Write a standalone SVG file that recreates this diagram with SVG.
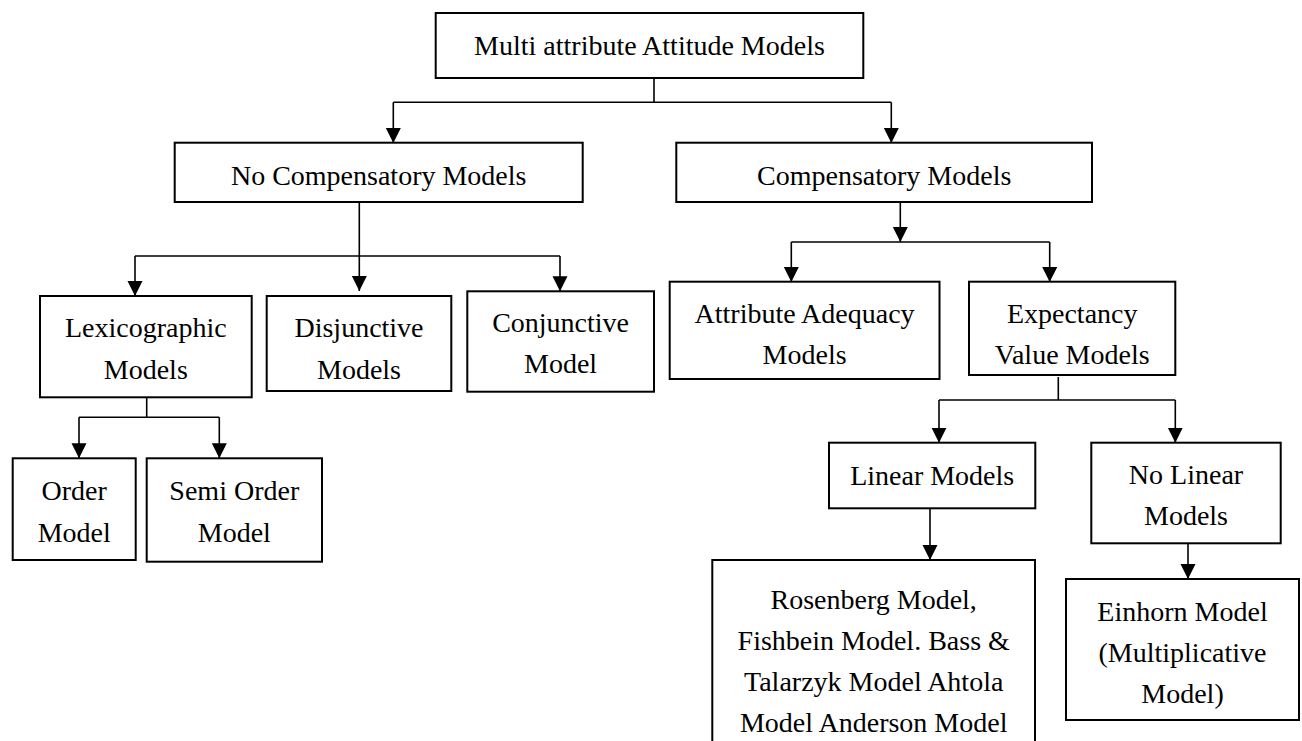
<svg xmlns="http://www.w3.org/2000/svg" width="1302" height="741" viewBox="0 0 1302 741">
<style>
.box{fill:#fff;stroke:#000;stroke-width:2}
.t{font-family:"Liberation Serif","Times New Roman",serif;font-size:28px;fill:#000;text-anchor:middle}
.c{fill:none;stroke:#000;stroke-width:1.6}
</style>
<defs>
<marker id="ah" markerUnits="userSpaceOnUse" markerWidth="16" markerHeight="16" refX="15" refY="7.5" orient="auto">
<path d="M0,0 L15,7.5 L0,15 z" fill="#000"/>
</marker>
</defs>
<rect width="1302" height="741" fill="#fff"/>
<g id="connectors">
<path class="c" d="M654,78 V102.3 M393.3,102.3 H891.3"/>
<path class="c" d="M393.3,102.3 V143" marker-end="url(#ah)"/>
<path class="c" d="M891.3,102.3 V143" marker-end="url(#ah)"/>
<path class="c" d="M359.3,202 V291" marker-end="url(#ah)"/>
<path class="c" d="M135,256 H560"/>
<path class="c" d="M135,256 V296" marker-end="url(#ah)"/>
<path class="c" d="M560,256 V291.3" marker-end="url(#ah)"/>
<path class="c" d="M900.3,202 V242" marker-end="url(#ah)"/>
<path class="c" d="M791.3,242 H1049.7"/>
<path class="c" d="M791.3,242 V282" marker-end="url(#ah)"/>
<path class="c" d="M1049.7,242 V282" marker-end="url(#ah)"/>
<path class="c" d="M146.7,397.3 V417.3 M79,417.3 H219.3"/>
<path class="c" d="M79,417.3 V458.3" marker-end="url(#ah)"/>
<path class="c" d="M219.3,417.3 V458.3" marker-end="url(#ah)"/>
<path class="c" d="M1058.3,377 V400 M939,400 H1175.3"/>
<path class="c" d="M939,400 V442.7" marker-end="url(#ah)"/>
<path class="c" d="M1175.3,400 V442.7" marker-end="url(#ah)"/>
<path class="c" d="M930,508.3 V560" marker-end="url(#ah)"/>
<path class="c" d="M1188,543.3 V579" marker-end="url(#ah)"/>
</g>
<g id="root">
<rect class="box" x="435.7" y="13" width="427.6" height="65"/>
<text class="t" x="649.5" y="54.5">Multi attribute Attitude Models</text>
</g>
<g id="nocomp">
<rect class="box" x="174.7" y="142.7" width="408" height="59.3"/>
<text class="t" x="378.7" y="185">No Compensatory Models</text>
</g>
<g id="comp">
<rect class="box" x="676.3" y="142.7" width="415.7" height="59.3"/>
<text class="t" x="884.2" y="185">Compensatory Models</text>
</g>
<g id="lexico">
<rect class="box" x="40" y="296" width="211.7" height="101.3"/>
<text class="t" x="145.8" y="337">Lexicographic</text>
<text class="t" x="145.8" y="378.5">Models</text>
</g>
<g id="disjunctive">
<rect class="box" x="266.7" y="296" width="184.6" height="95"/>
<text class="t" x="359" y="337">Disjunctive</text>
<text class="t" x="359" y="378.5">Models</text>
</g>
<g id="conjunctive">
<rect class="box" x="467.3" y="291.3" width="186.7" height="100.4"/>
<text class="t" x="560.6" y="332">Conjunctive</text>
<text class="t" x="560.6" y="373">Model</text>
</g>
<g id="adequacy">
<rect class="box" x="669.7" y="281.7" width="269.8" height="97.3"/>
<text class="t" x="804.6" y="323">Attribute Adequacy</text>
<text class="t" x="804.6" y="364">Models</text>
</g>
<g id="expectancy">
<rect class="box" x="969" y="281.7" width="206.3" height="93.3"/>
<text class="t" x="1072.2" y="323">Expectancy</text>
<text class="t" x="1072.2" y="364">Value Models</text>
</g>
<g id="order">
<rect class="box" x="12.7" y="458.3" width="123" height="101.7"/>
<text class="t" x="74.2" y="500">Order</text>
<text class="t" x="74.2" y="541.7">Model</text>
</g>
<g id="semiorder">
<rect class="box" x="146.7" y="458.3" width="175.3" height="103.4"/>
<text class="t" x="234.3" y="500">Semi Order</text>
<text class="t" x="234.3" y="541.7">Model</text>
</g>
<g id="linear">
<rect class="box" x="829" y="442.7" width="206.3" height="65.6"/>
<text class="t" x="932.2" y="485">Linear Models</text>
</g>
<g id="nolinear">
<rect class="box" x="1091.3" y="442.7" width="189.4" height="100.6"/>
<text class="t" x="1186" y="484">No Linear</text>
<text class="t" x="1186" y="525">Models</text>
</g>
<g id="rosenberg">
<rect class="box" x="712.3" y="560" width="322.7" height="200"/>
<text class="t" x="873.7" y="609">Rosenberg Model,</text>
<text class="t" x="873.7" y="650">Fishbein Model. Bass &amp;</text>
<text class="t" x="873.7" y="691">Talarzyk Model Ahtola</text>
<text class="t" x="873.7" y="732">Model Anderson Model</text>
</g>
<g id="einhorn">
<rect class="box" x="1066" y="579" width="233" height="141"/>
<text class="t" x="1182.5" y="621">Einhorn Model</text>
<text class="t" x="1182.5" y="662">(Multiplicative</text>
<text class="t" x="1182.5" y="703">Model)</text>
</g>
</svg>
